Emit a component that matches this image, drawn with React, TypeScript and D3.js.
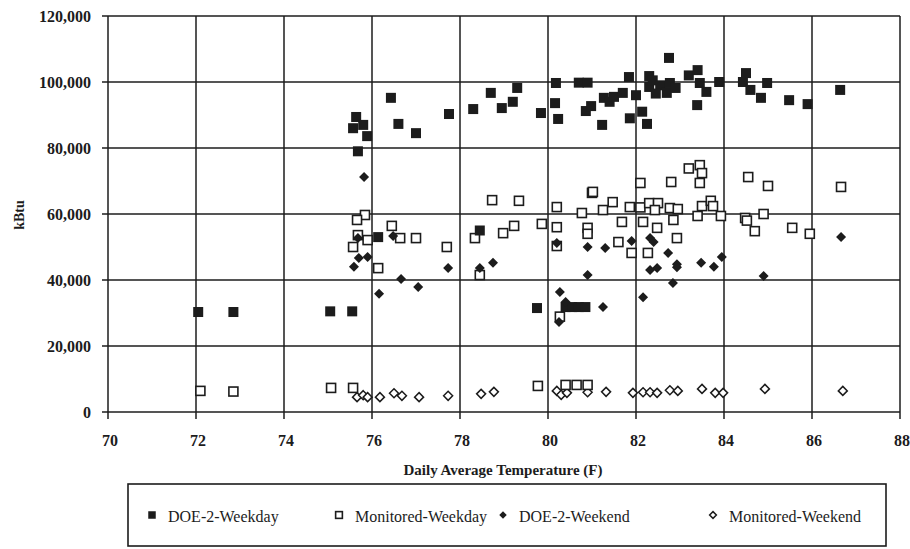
import React from "react";
import * as d3 from "d3";

// Daily average temperature (F) and daily energy use (kBtu) for each series
const doe2WeekdayTemp = [72.05, 72.85, 75.05, 75.55, 75.68, 76.14, 75.64, 75.57, 75.8, 75.89, 76.43, 76.6, 77.0, 77.75, 78.3, 78.7, 78.95, 79.2, 79.3, 79.84, 80.18, 80.16, 80.23, 80.7, 80.9, 80.86, 80.98, 81.27, 81.23, 81.4, 81.5, 81.7, 81.84, 81.86, 82.0, 82.14, 82.25, 82.3, 82.3, 82.38, 82.55, 82.7, 82.75, 82.77, 82.9, 83.2, 83.4, 83.45, 83.6, 83.39, 83.89, 84.5, 84.43, 84.6, 84.84, 84.98, 85.48, 85.9, 86.64, 78.45, 79.75, 80.4, 80.55, 80.7, 80.85, 82.45];
const doe2WeekdayKbtu = [30300, 30300, 30500, 30500, 79000, 53000, 89400, 86000, 87000, 83600, 95200, 87300, 84500, 90300, 91800, 96700, 92100, 94000, 98200, 90600, 99700, 93600, 88800, 99800, 99800, 91200, 92700, 95200, 87000, 94000, 95500, 96700, 101500, 89000, 96000, 91000, 87300, 101800, 98500, 100500, 99000, 96700, 107300, 99700, 98200, 102000, 103600, 99700, 97000, 93000, 100000, 102700, 100000, 97600, 95200, 99700, 94500, 93300, 97600, 55000, 31500, 31800, 31800, 31800, 31800, 96500];

const monitoredWeekdayTemp = [72.1, 72.85, 75.07, 75.57, 79.77, 80.4, 80.65, 80.9, 80.27, 75.84, 75.66, 75.68, 75.9, 75.57, 76.45, 76.64, 77.0, 76.14, 77.7, 78.34, 78.73, 79.34, 78.98, 79.23, 79.86, 78.45, 80.2, 80.2, 80.2, 81.0, 80.77, 80.9, 80.9, 81.25, 81.47, 81.68, 81.6, 81.86, 82.1, 81.9, 82.1, 82.16, 82.27, 82.3, 82.5, 82.43, 82.48, 82.8, 82.77, 82.85, 82.93, 82.95, 83.2, 83.45, 83.5, 83.45, 84.55, 85.0, 86.66, 81.02, 83.5, 83.7, 83.75, 83.4, 83.93, 84.48, 84.52, 84.9, 84.7, 85.55, 85.95];
const monitoredWeekdayKbtu = [6400, 6200, 7300, 7300, 7900, 8200, 8200, 8200, 28900, 59700, 58200, 53600, 52100, 50000, 56400, 52700, 52700, 43600, 50000, 52700, 64200, 64000, 54200, 56400, 57000, 41500, 62100, 56000, 50300, 66400, 60300, 55800, 54000, 61200, 63600, 57600, 51500, 62100, 69400, 48200, 62000, 57600, 48200, 63300, 63300, 61200, 55800, 69700, 61800, 58200, 52700, 61500, 73800, 74800, 72400, 69400, 71200, 68500, 68200, 66700, 62400, 64000, 62400, 59400, 59400, 58800, 58000, 60000, 54800, 55800, 54000];

const doe2WeekendTemp = [75.82, 76.48, 75.68, 75.7, 75.9, 75.59, 76.66, 77.05, 76.16, 77.73, 78.45, 78.75, 80.2, 80.9, 81.3, 80.9, 80.27, 80.4, 80.25, 81.25, 81.9, 82.32, 82.4, 82.73, 82.32, 82.48, 82.93, 82.93, 82.84, 82.16, 83.48, 83.77, 83.95, 84.9, 86.66];
const doe2WeekendKbtu = [71200, 53300, 52700, 46700, 47000, 44000, 40300, 37900, 35800, 43600, 43600, 45200, 51200, 50000, 49700, 41500, 36400, 33300, 27300, 31800, 51800, 52700, 51500, 48200, 43000, 43600, 43900, 44800, 39100, 34800, 45200, 44000, 47000, 41200, 53000];

const monitoredWeekendTemp = [75.66, 75.8, 75.9, 76.18, 76.5, 76.68, 77.07, 77.73, 78.48, 78.77, 80.2, 80.3, 80.43, 80.9, 81.32, 81.93, 82.16, 82.32, 82.48, 82.77, 82.95, 83.5, 83.8, 83.98, 84.93, 86.7];
const monitoredWeekendKbtu = [4500, 5100, 4500, 4500, 5700, 4900, 4500, 4900, 5500, 6100, 6400, 5200, 5800, 6000, 6100, 5800, 6000, 6000, 5800, 6600, 6400, 7000, 5800, 5800, 7000, 6400];

const xTicks = [70, 72, 74, 76, 78, 80, 82, 84, 86, 88];
const yTicks = [0, 20000, 40000, 60000, 80000, 100000, 120000];
const legendLabels = ["DOE-2-Weekday", "Monitored-Weekday", "DOE-2-Weekend", "Monitored-Weekend"];

const W = 910;
const H = 549;
const INK = "#1c1c1c";
const FONT = "'Liberation Serif', 'Times New Roman', serif";

type Shape = "square" | "openSquare" | "diamond" | "openDiamond";

function Marker({ shape, cx, cy, k = 1 }: { shape: Shape; cx: number; cy: number; k?: number }) {
  if (shape === "square") {
    const s = 5 * k;
    return <rect x={cx - s} y={cy - s} width={2 * s} height={2 * s} fill={INK} />;
  }
  if (shape === "openSquare") {
    const s = 4.5 * k;
    return <rect x={cx - s} y={cy - s} width={2 * s} height={2 * s} fill="white" stroke={INK} strokeWidth={1.6} />;
  }
  const r = (shape === "diamond" ? 5 : 4.5) * k;
  const d = `M${cx},${cy - r}L${cx + r},${cy}L${cx},${cy + r}L${cx - r},${cy}Z`;
  if (shape === "diamond") return <path d={d} fill={INK} />;
  return <path d={d} fill="white" stroke={INK} strokeWidth={1.5} />;
}

export default function App() {
  const x = d3.scaleLinear().domain([70, 88]).range([108, 900]);
  const y = d3.scaleLinear().domain([0, 120000]).range([412, 16]);
  const fmt = d3.format(",");

  const series: { shape: Shape; temps: number[]; vals: number[] }[] = [
    { shape: "openDiamond", temps: monitoredWeekendTemp, vals: monitoredWeekendKbtu },
    { shape: "openSquare", temps: monitoredWeekdayTemp, vals: monitoredWeekdayKbtu },
    { shape: "square", temps: doe2WeekdayTemp, vals: doe2WeekdayKbtu },
    { shape: "diamond", temps: doe2WeekendTemp, vals: doe2WeekendKbtu },
  ];

  const legendShapes: Shape[] = ["square", "openSquare", "diamond", "openDiamond"];
  const legendMarkerX = [152, 339, 503, 713];

  return (
    <svg width={W} height={H} style={{ position: "absolute", left: 0, top: 0, background: "white" }} fontFamily={FONT}>
      {/* grid */}
      {yTicks.map((t) => (
        <g key={"y" + t}>
          <line x1={x(70)} x2={x(88)} y1={y(t)} y2={y(t)} stroke={INK} strokeWidth={1.5} />
          <line x1={x(70) - 6} x2={x(70)} y1={y(t)} y2={y(t)} stroke={INK} strokeWidth={1.5} />
          <text x={91} y={y(t)} dy="0.38em" textAnchor="end" fontSize={16} fontWeight="bold" fill={INK}>
            {fmt(t)}
          </text>
        </g>
      ))}
      {xTicks.map((t) => (
        <g key={"x" + t}>
          <line x1={x(t)} x2={x(t)} y1={y(120000)} y2={y(0) + 7} stroke={INK} strokeWidth={1.5} />
          <text x={x(t) + 2} y={446} textAnchor="middle" fontSize={16} fontWeight="bold" fill={INK}>
            {t}
          </text>
        </g>
      ))}

      {/* points */}
      {series.map((s) =>
        s.temps.map((t, i) => <Marker key={s.shape + i} shape={s.shape} cx={x(t)} cy={y(s.vals[i])} />)
      )}

      {/* axis titles */}
      <text x={503} y={475} textAnchor="middle" fontSize={15} fontWeight="bold" fill={INK}>
        Daily Average Temperature (F)
      </text>
      <text transform="translate(24,215) rotate(-90)" textAnchor="middle" fontSize={14} fontWeight="bold" fill={INK}>
        kBtu
      </text>

      {/* legend */}
      <rect x={128} y={484} width={758} height={62} fill="white" stroke={INK} strokeWidth={1.6} />
      {legendLabels.map((lab, i) => (
        <g key={lab}>
          <Marker shape={legendShapes[i]} cx={legendMarkerX[i]} cy={515} k={0.75} />
          <text x={legendMarkerX[i] + 16} y={522} fontSize={16} fill={INK}>
            {lab}
          </text>
        </g>
      ))}
    </svg>
  );
}
